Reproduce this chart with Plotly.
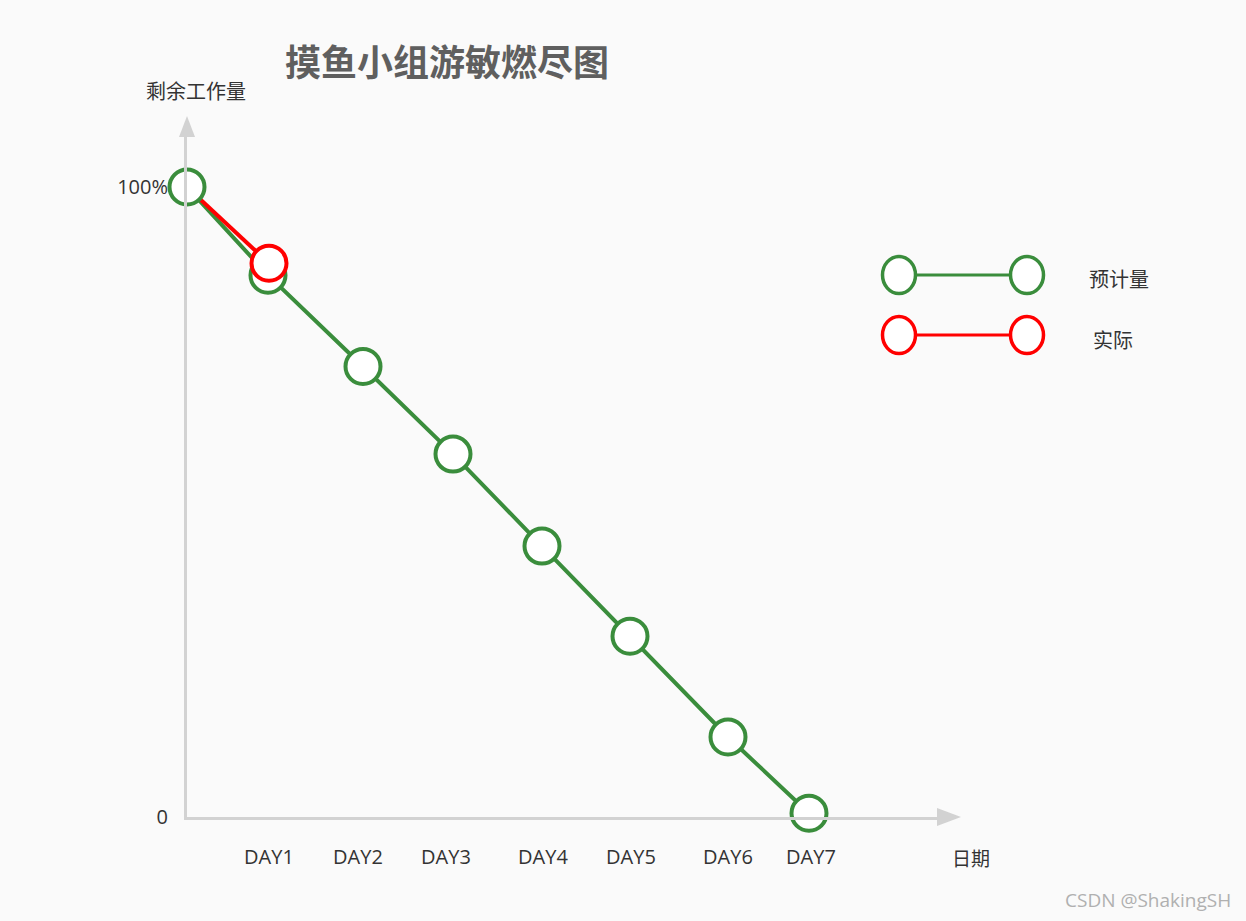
import plotly.graph_objects as go

# ---- data ----
day_labels = ["DAY1", "DAY2", "DAY3", "DAY4", "DAY5", "DAY6", "DAY7"]
day_ticks = [0.82, 1.71, 2.59, 3.56, 4.44, 5.41, 6.24]
plan_x = [0.0, 0.81, 1.76, 2.66, 3.55, 4.43, 5.41, 6.22]
plan_y = [100, 86.0, 71.5, 57.6, 43.0, 28.7, 12.7, 0.6]
actual_x = [0.0, 0.82]
actual_y = [100, 87.9]
y_tick_vals = [0, 100]
y_tick_text = ["0", "100%"]
series_names = ["预计量", "实际"]

GREEN = "#3a8d3c"
RED = "#ff0000"
AXIS = "#d2d2d2"
BG = "#fafafa"
FONT = "Open Sans, Noto Sans CJK SC, sans-serif"
CJK = "Noto Sans CJK SC, sans-serif"

W, H = 1246, 921
L, R, T, B = 187, 309, 137, 104
PW, PH = W - L - R, H - T - B


def px(x, y):
    return (x - L) / PW, (H - B - y) / PH


fig = go.Figure()
# lines first
fig.add_trace(go.Scatter(x=plan_x, y=plan_y, mode="lines",
                         line=dict(color=GREEN, width=4), cliponaxis=False,
                         showlegend=False, hoverinfo="skip"))
fig.add_trace(go.Scatter(x=actual_x, y=actual_y, mode="lines",
                         line=dict(color=RED, width=4), cliponaxis=False,
                         showlegend=False, hoverinfo="skip"))
# markers on top
fig.add_trace(go.Scatter(x=plan_x, y=plan_y, mode="markers", name=series_names[0],
                         marker=dict(size=35, color="white", line=dict(color=GREEN, width=4)),
                         cliponaxis=False, showlegend=False))
fig.add_trace(go.Scatter(x=actual_x[1:], y=actual_y[1:], mode="markers", name=series_names[1],
                         marker=dict(size=35, color="white", line=dict(color=RED, width=4)),
                         cliponaxis=False, showlegend=False))

shapes = []
# axis arrows
ax0, ay0 = px(179, 137)
ax1, _ = px(195, 137)
axt, ayt = px(187, 116)
shapes.append(dict(type="path", xref="paper", yref="paper",
                   path=f"M {ax0} {ay0} L {ax1} {ay0} L {axt} {ayt} Z",
                   fillcolor=AXIS, line=dict(width=0)))
bx0, by0 = px(937, 808)
_, by1 = px(937, 826)
bxt, byt = px(961, 817)
shapes.append(dict(type="path", xref="paper", yref="paper",
                   path=f"M {bx0} {by0} L {bx0} {by1} L {bxt} {byt} Z",
                   fillcolor=AXIS, line=dict(width=0)))

# legend decoration
for color, cy, lw in [(GREEN, 275, 2.8), (RED, 335, 3)]:
    lx0, ly = px(917, cy)
    lx1, _ = px(1009, cy)
    shapes.append(dict(type="line", xref="paper", yref="paper", x0=lx0, x1=lx1, y0=ly, y1=ly,
                       line=dict(color=color, width=lw)))
    for cx in (899, 1027):
        ex0, ey0 = px(cx - 16.5, cy + 18.5)
        ex1, ey1 = px(cx + 16.5, cy - 18.5)
        shapes.append(dict(type="circle", xref="paper", yref="paper",
                           x0=ex0, x1=ex1, y0=ey0, y1=ey1, fillcolor="white",
                           line=dict(color=color, width=3.5)))

annotations = []


def text(t, x, y, size, color="#333333", family=FONT, xanchor="center"):
    ax, ay = px(x, y)
    annotations.append(dict(text=t, x=ax, y=ay, xref="paper", yref="paper",
                            xanchor=xanchor, yanchor="middle", showarrow=False,
                            font=dict(size=size, color=color, family=family)))


text("<b>摸鱼小组游敏燃尽图</b>", 447, 60, 36, color="#5f5f5f", family=CJK)
text("剩余工作量", 196, 90, 20, family=CJK)
text("日期", 971, 857, 19, family=CJK)
text(series_names[0], 1119, 278, 20, family=CJK)
text(series_names[1], 1113, 339, 20, family=CJK)
text("CSDN @ShakingSH", 1148, 900, 19, color="#b0b0b0")

fig.update_layout(
    width=W, height=H,
    margin=dict(l=L, r=R, t=T, b=B, pad=0),
    paper_bgcolor=BG, plot_bgcolor=BG,
    shapes=shapes, annotations=annotations,
    font=dict(family=FONT, size=20, color="#333333"),
    xaxis=dict(range=[0, PW / 100], showgrid=False, zeroline=False,
               showline=True, linecolor=AXIS, linewidth=3,
               tickmode="array", tickvals=day_ticks, ticktext=day_labels,
               ticks="", ticklabelstandoff=20, fixedrange=True),
    yaxis=dict(range=[0, PH / 6.3], showgrid=False, zeroline=False,
               showline=True, linecolor=AXIS, linewidth=3,
               tickmode="array", tickvals=y_tick_vals, ticktext=y_tick_text,
               ticks="", ticklabelstandoff=12, fixedrange=True),
    hovermode=False,
)

fig.write_html(
    "out.html",
    config={"displayModeBar": False, "staticPlot": True},
    post_script="document.body.style.margin='0';document.body.style.background='#fafafa';",
)
